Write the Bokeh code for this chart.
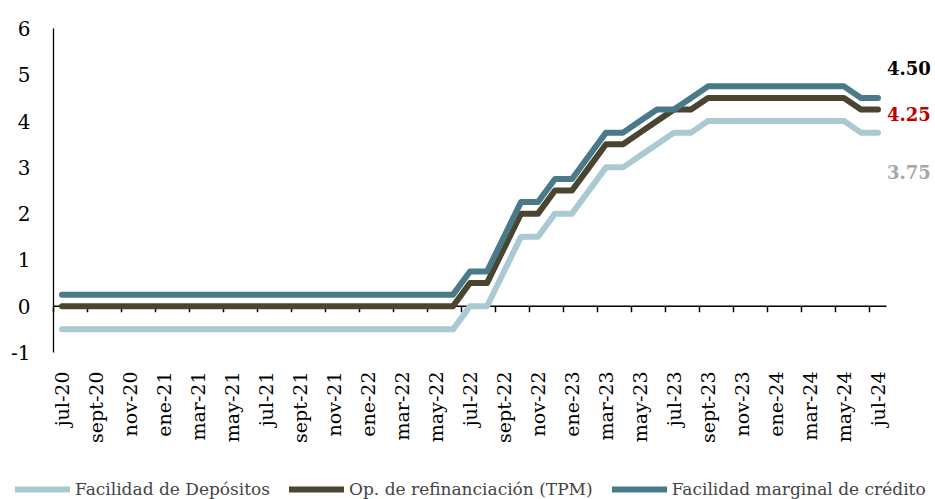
import math
from bokeh.plotting import figure
from bokeh.models import Label, Legend, LegendItem, Range1d
from bokeh.core.properties import value
from bokeh.embed import file_html
from bokeh.resources import INLINE

# ---------------- data ----------------
months = ["jul-20", "ago-20", "sept-20", "oct-20", "nov-20", "dic-20",
          "ene-21", "feb-21", "mar-21", "abr-21", "may-21", "jun-21", "jul-21", "ago-21",
          "sept-21", "oct-21", "nov-21", "dic-21",
          "ene-22", "feb-22", "mar-22", "abr-22", "may-22", "jun-22", "jul-22", "ago-22",
          "sept-22", "oct-22", "nov-22", "dic-22",
          "ene-23", "feb-23", "mar-23", "abr-23", "may-23", "jun-23", "jul-23", "ago-23",
          "sept-23", "oct-23", "nov-23", "dic-23",
          "ene-24", "feb-24", "mar-24", "abr-24", "may-24", "jun-24", "jul-24"]

deposit = [-0.5, -0.5, -0.5, -0.5, -0.5, -0.5,
           -0.5, -0.5, -0.5, -0.5, -0.5, -0.5, -0.5, -0.5,
           -0.5, -0.5, -0.5, -0.5,
           -0.5, -0.5, -0.5, -0.5, -0.5, -0.5, 0.0, 0.0,
           0.75, 1.5, 1.5, 2.0,
           2.0, 2.5, 3.0, 3.0, 3.25, 3.5, 3.75, 3.75,
           4.0, 4.0, 4.0, 4.0,
           4.0, 4.0, 4.0, 4.0, 4.0, 3.75, 3.75]

tpm = [0.0, 0.0, 0.0, 0.0, 0.0, 0.0,
       0.0, 0.0, 0.0, 0.0, 0.0, 0.0, 0.0, 0.0,
       0.0, 0.0, 0.0, 0.0,
       0.0, 0.0, 0.0, 0.0, 0.0, 0.0, 0.5, 0.5,
       1.25, 2.0, 2.0, 2.5,
       2.5, 3.0, 3.5, 3.5, 3.75, 4.0, 4.25, 4.25,
       4.5, 4.5, 4.5, 4.5,
       4.5, 4.5, 4.5, 4.5, 4.5, 4.25, 4.25]

mlf = [0.25, 0.25, 0.25, 0.25, 0.25, 0.25,
       0.25, 0.25, 0.25, 0.25, 0.25, 0.25, 0.25, 0.25,
       0.25, 0.25, 0.25, 0.25,
       0.25, 0.25, 0.25, 0.25, 0.25, 0.25, 0.75, 0.75,
       1.5, 2.25, 2.25, 2.75,
       2.75, 3.25, 3.75, 3.75, 4.0, 4.25, 4.25, 4.5,
       4.75, 4.75, 4.75, 4.75,
       4.75, 4.75, 4.75, 4.75, 4.75, 4.5, 4.5]

tick_labels = ["jul-20", "sept-20", "nov-20", "ene-21", "mar-21", "may-21", "jul-21",
               "sept-21", "nov-21", "ene-22", "mar-22", "may-22", "jul-22", "sept-22",
               "nov-22", "ene-23", "mar-23", "may-23", "jul-23", "sept-23", "nov-23",
               "ene-24", "mar-24", "may-24", "jul-24"]

y_ticks = [-1, 0, 1, 2, 3, 4, 5, 6]

series_names = ["Facilidad de Depósitos", "Op. de refinanciación (TPM)",
                "Facilidad marginal de crédito"]
series_colors = ["#A9CAD3", "#4A4530", "#4A7A8A"]
end_label_colors = ["#A6A6A6", "#C00000", "#000000"]

# ---------------- layout constants (pixels) ----------------
W, H = 935, 499
LEFT, TOP, AXIS_BOTTOM = 53, 28, 352
AXIS_PX = 833                      # length of the category axis

# ---------------- positions / scales ----------------
x = list(range(len(months)))
n = len(months)
tick_pos = [months.index(t) for t in tick_labels]
tick_marks = [t - 0.5 for t in tick_pos]
x_start = -0.5
x_axis_end = n - 0.5
px_x = AXIS_PX / n
x_left = x_start - LEFT / px_x
x_right = x_left + W / px_x
px_y = (AXIS_BOTTOM - TOP) / (y_ticks[-1] - y_ticks[0])
y_top = y_ticks[-1] + TOP / px_y
y_bot = y_top - H / px_y

FONT = "DejaVu Serif"

p = figure(width=W, height=H, output_backend="svg", toolbar_location=None,
           x_range=Range1d(x_left, x_right), y_range=Range1d(y_bot, y_top),
           x_axis_type=None, y_axis_type=None,
           min_border_left=0, min_border_right=0, min_border_top=0, min_border_bottom=0)
p.outline_line_color = None
p.xgrid.visible = False
p.ygrid.visible = False

# ---- value axis (left) ----
p.segment(x0=[x_start], y0=[y_ticks[0]], x1=[x_start], y1=[y_ticks[-1]],
          line_color="black", line_width=1.3)
p.text(x=[x_start] * len(y_ticks), y=y_ticks, text=[str(v) for v in y_ticks],
       x_offset=-23, text_align="right", text_baseline="middle",
       text_font=value(FONT), text_font_size="20px", text_color="black")

# ---- category axis: line at zero, tick marks, labels at the bottom ----
p.segment(x0=[x_start], y0=[0], x1=[x_axis_end], y1=[0], line_color="black", line_width=1.5)
p.segment(x0=tick_marks, y0=[0] * len(tick_marks), x1=tick_marks,
          y1=[-0.13] * len(tick_marks), line_color="black", line_width=1.5)
p.text(x=tick_pos, y=[y_ticks[0]] * len(tick_pos), text=tick_labels,
       angle=math.pi / 2, y_offset=19, text_align="right", text_baseline="middle",
       text_font=value(FONT), text_font_size="19px", text_color="black")

# ---- series ----
renderers = []
for vals, col in zip([deposit, tpm, mlf], series_colors):
    r = p.line(x, vals, line_color=col, line_width=6, line_cap="round", line_join="round")
    renderers.append(r)

# ---- end labels ----
offsets = [(9, -39), (9, -4), (9, 30)]
for vals, col, (dx, dy) in zip([deposit, tpm, mlf], end_label_colors, offsets):
    p.add_layout(Label(x=x[-1], y=vals[-1], x_offset=dx, y_offset=dy,
                       text=f"{vals[-1]:.2f}", text_font=FONT, text_font_size="18px",
                       text_font_style="bold", text_color=col,
                       text_baseline="middle", text_align="left"))

# ---- legend ----
legend = Legend(items=[LegendItem(label=nm, renderers=[r]) for nm, r in zip(series_names, renderers)],
                orientation="horizontal", location=(15, 0), padding=0, margin=0,
                spacing=19, glyph_width=55, glyph_height=20, label_height=20,
                label_standoff=5,
                label_text_font=FONT, label_text_font_size="17px",
                border_line_color=None, background_fill_alpha=0)
p.add_layout(legend)

open("out.html", "w").write(file_html(p, INLINE))
